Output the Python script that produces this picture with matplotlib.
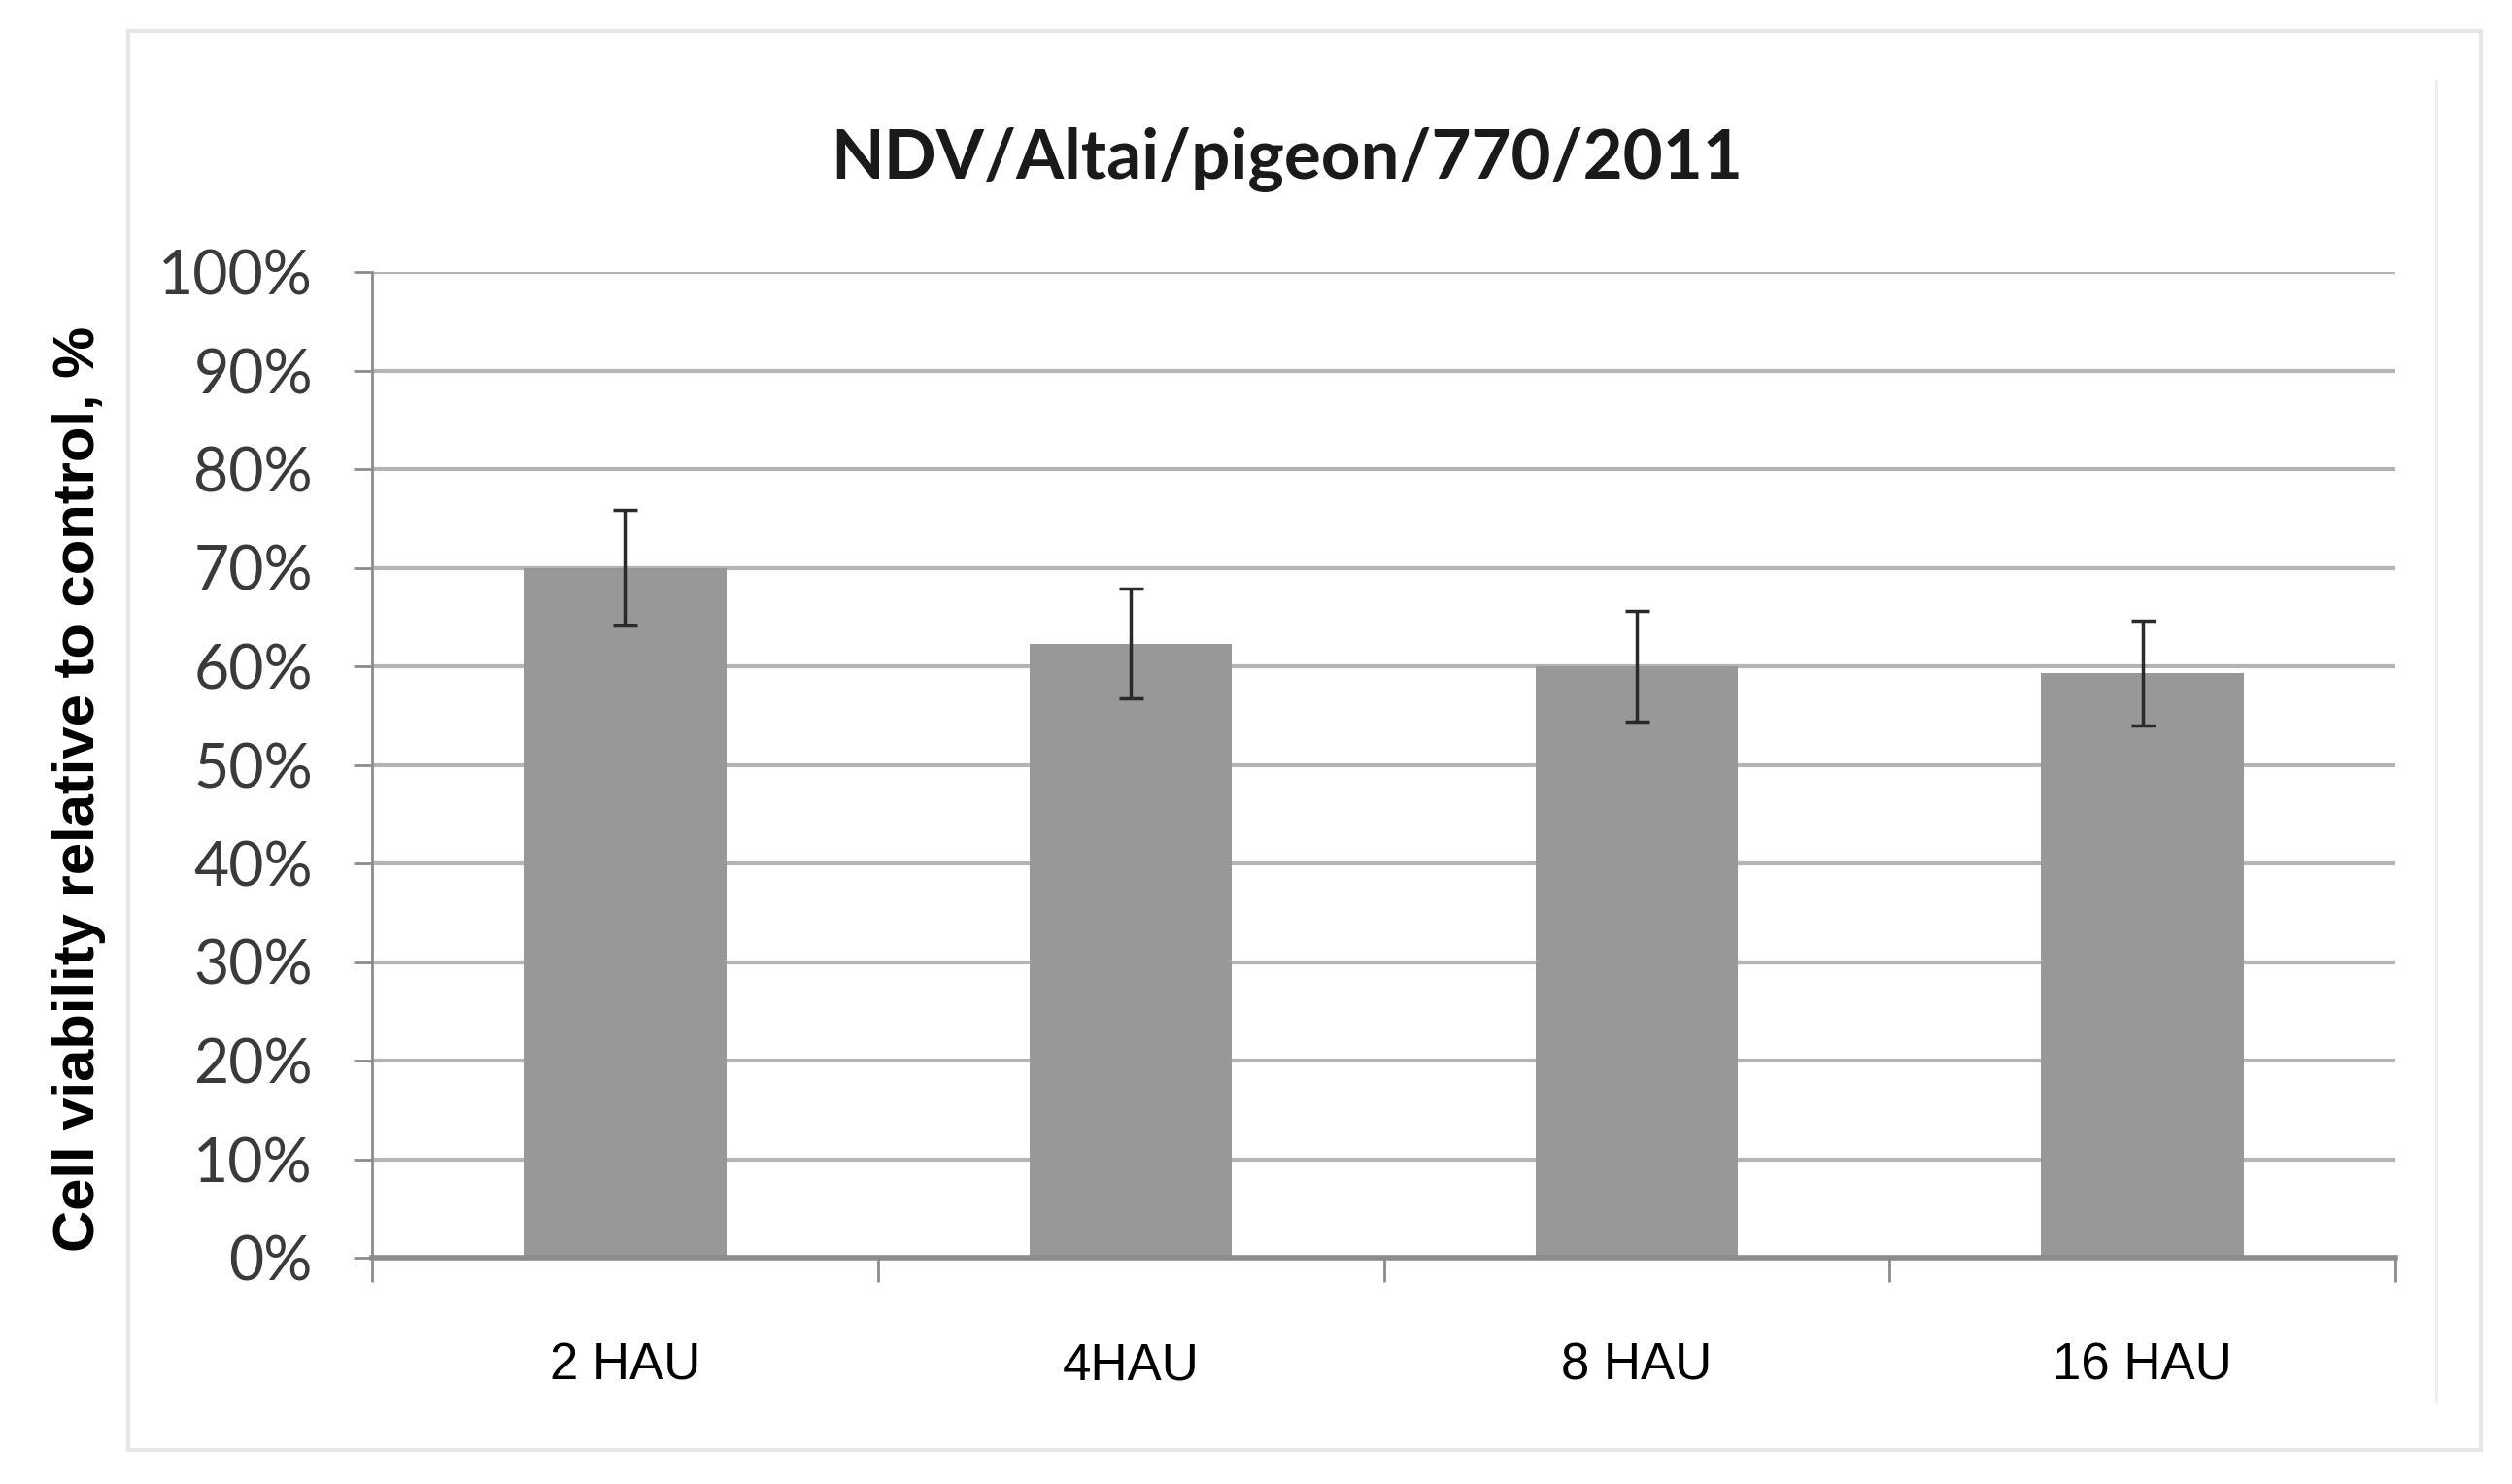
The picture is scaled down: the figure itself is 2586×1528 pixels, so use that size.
import matplotlib
matplotlib.use("Agg")
import matplotlib.pyplot as plt
from matplotlib.patches import Rectangle
from matplotlib.lines import Line2D
from matplotlib.ticker import FixedLocator, FuncFormatter

categories = ["2 HAU", "4HAU", "8 HAU", "16 HAU"]
viability = [70.0, 62.3, 60.0, 59.3]
errors = [5.9, 5.6, 5.6, 5.3]
yticks = [0, 10, 20, 30, 40, 50, 60, 70, 80, 90, 100]
title = "NDV/Altai/pigeon/770/2011"
ylabel = "Cell viability relative to control, %"

W, H = 2586, 1528
fig = plt.figure(figsize=(W / 100, H / 100), dpi=100)
fig.patch.set_facecolor("white")

# outer frames
def fx(x): return x / W
def fy(y): return 1 - y / H
frame_col = "#e6e6e6"
fig.add_artist(Rectangle((fx(132), fy(1493)), fx(2554) - fx(132), fy(32) - fy(1493),
                         transform=fig.transFigure, fill=False, ec=frame_col, lw=3))
fig.add_artist(Line2D([fx(2508), fx(2508)], [fy(83), fy(1443)], transform=fig.transFigure,
                      color="#eeeeee", lw=2))

ax = fig.add_axes([383 / W, 1 - 1295 / H, (2466 - 383) / W, (1295 - 280) / H])
x = list(range(len(categories)))
ax.set_axisbelow(True)
ax.yaxis.grid(True, color="#b4b4b4", lw=3)
ax.bar(x, viability, width=0.40, color="#989898", zorder=2)
ax.errorbar(x, viability, yerr=errors, fmt="none", ecolor="#2a2a2a", elinewidth=2.5,
            capsize=9, capthick=2.5, zorder=3)

ax.set_xlim(-0.5, len(categories) - 0.5)
ax.set_ylim(0, 100)
ax.set_yticks(yticks)
ax.yaxis.set_major_formatter(FuncFormatter(lambda v, p: f"{int(v)}%"))
ax.tick_params(axis="y", length=14, width=2, color="#8c8c8c", pad=30,
               labelsize=45, labelcolor="#3a3a3a")
for lab in ax.get_yticklabels():
    lab.set_family("Lato")

ax.xaxis.set_major_locator(FixedLocator([i - 0.5 for i in range(len(categories) + 1)]))
ax.xaxis.set_minor_locator(FixedLocator(x))
ax.set_xticklabels([], minor=False)
ax.set_xticks(x, categories, minor=True)
ax.tick_params(axis="x", which="major", length=18, width=2, color="#8c8c8c")
ax.tick_params(axis="x", which="minor", length=0, pad=62, labelsize=38)
for lab in ax.get_xticklabels(minor=True):
    lab.set_family("Liberation Sans")

for s in ["top", "right"]:
    ax.spines[s].set_visible(False)
ax.spines["left"].set_color("#8c8c8c")
ax.spines["left"].set_linewidth(2)
ax.spines["bottom"].set_color("#8c8c8c")
ax.spines["bottom"].set_linewidth(4)

fig.text(0.5 * (508 + 1098) / 1568, fy(165), title, ha="center", va="center",
         fontsize=51, fontweight="bold", family="Lato", color="#1a1a1a")
fig.text(fx(82), fy(812), ylabel, rotation=90, ha="center", va="center",
         fontsize=43, fontweight="bold", family="Liberation Sans", color="black")

fig.savefig("out.png", dpi=100, facecolor="white")
